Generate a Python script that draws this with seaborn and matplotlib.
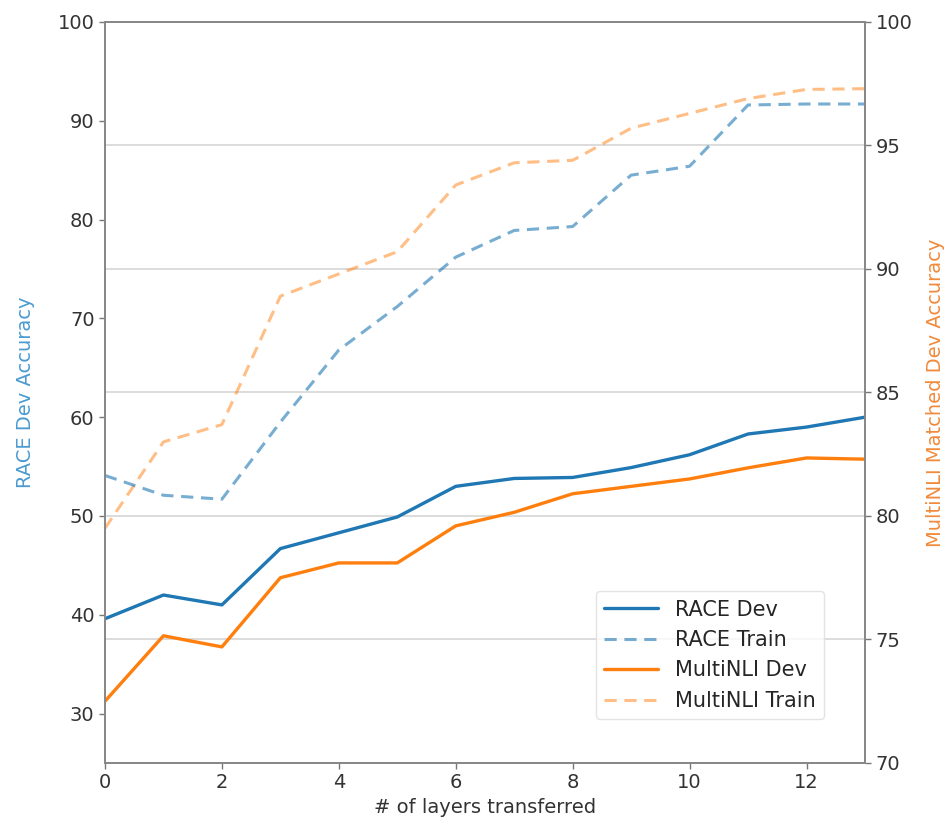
import pandas as pd
import seaborn as sns
import matplotlib.pyplot as plt

layers = list(range(14))
race_dev = [39.6, 42.0, 41.0, 46.7, 48.3, 49.9, 53.0, 53.8, 53.9, 54.9, 56.2, 58.3, 59.0, 60.0]
race_train = [54.1, 52.1, 51.7, 59.5, 66.8, 71.2, 76.2, 78.9, 79.3, 84.5, 85.4, 91.6, 91.7, 91.7]
mnli_dev = [72.5, 75.15, 74.7, 77.5, 78.1, 78.1, 79.6, 80.15, 80.9, 81.2, 81.5, 81.95, 82.35, 82.3]
mnli_train = [79.5, 83.0, 83.7, 88.9, 89.8, 90.7, 93.4, 94.3, 94.4, 95.7, 96.3, 96.9, 97.27, 97.3]

df = pd.DataFrame({'layers': layers, 'race_dev': race_dev, 'race_train': race_train,
                   'mnli_dev': mnli_dev, 'mnli_train': mnli_train})

sns.set_style("white")
plt.rcParams['font.family'] = ['DejaVu Sans']

blue = '#1f77b4'
orange = '#ff7f0e'

fig = plt.figure(figsize=(9.5, 8.27), dpi=100)
ax1 = fig.add_axes([0.1105, 0.0774, 0.80, 0.896])
ax2 = ax1.twinx()

sns.lineplot(data=df, x='layers', y='race_dev', ax=ax1, color=blue, linewidth=2.4, label='RACE Dev')
sns.lineplot(data=df, x='layers', y='race_train', ax=ax1, color=blue, alpha=0.6, linewidth=2.2,
             linestyle=(0, (4, 2.5)), label='RACE Train')
sns.lineplot(data=df, x='layers', y='mnli_dev', ax=ax2, color=orange, linewidth=2.4, label='MultiNLI Dev')
sns.lineplot(data=df, x='layers', y='mnli_train', ax=ax2, color=orange, alpha=0.5, linewidth=2.2,
             linestyle=(0, (4, 2.5)), label='MultiNLI Train')

ax1.set_xlim(0, 13)
ax1.set_ylim(25, 100)
ax2.set_ylim(70, 100)
ax1.set_yticks([30, 40, 50, 60, 70, 80, 90, 100])
ax2.set_yticks([70, 75, 80, 85, 90, 95, 100])
ax1.set_xticks([0, 2, 4, 6, 8, 10, 12])

ax1.grid(False)
ax2.grid(False)
ax2.yaxis.grid(True, color='#d9d9d9', linewidth=1.3)
ax1.set_zorder(ax2.get_zorder() + 1)
ax1.patch.set_visible(False)

ax1.set_xlabel('# of layers transferred', fontsize=14, color='#333333')
ax1.set_ylabel('RACE Dev Accuracy', fontsize=14, color='#4a9bd0', labelpad=16)
ax2.set_ylabel('MultiNLI Matched Dev Accuracy', fontsize=14, color='#f08a3c', labelpad=10)

for ax in (ax1, ax2):
    ax.tick_params(axis='both', labelsize=14, colors='#333333', length=4, width=1,
                   direction='out', color='#777777')
    for s in ax.spines.values():
        s.set_color('#888888')
        s.set_linewidth(1.3)
ax1.tick_params(axis='x', bottom=True)
ax1.tick_params(axis='y', left=True)
ax2.tick_params(axis='y', right=True)

h1, l1 = ax1.get_legend_handles_labels()
h2, l2 = ax2.get_legend_handles_labels()
if ax1.get_legend():
    ax1.get_legend().remove()
if ax2.get_legend():
    ax2.get_legend().remove()
leg = ax1.legend(h1 + h2, l1 + l2, loc='lower right', bbox_to_anchor=(0.96, 0.045),
                 fontsize=15, frameon=True, handlelength=2.6)
leg.get_frame().set_edgecolor('#dddddd')

fig.savefig('out.png', dpi=100)
